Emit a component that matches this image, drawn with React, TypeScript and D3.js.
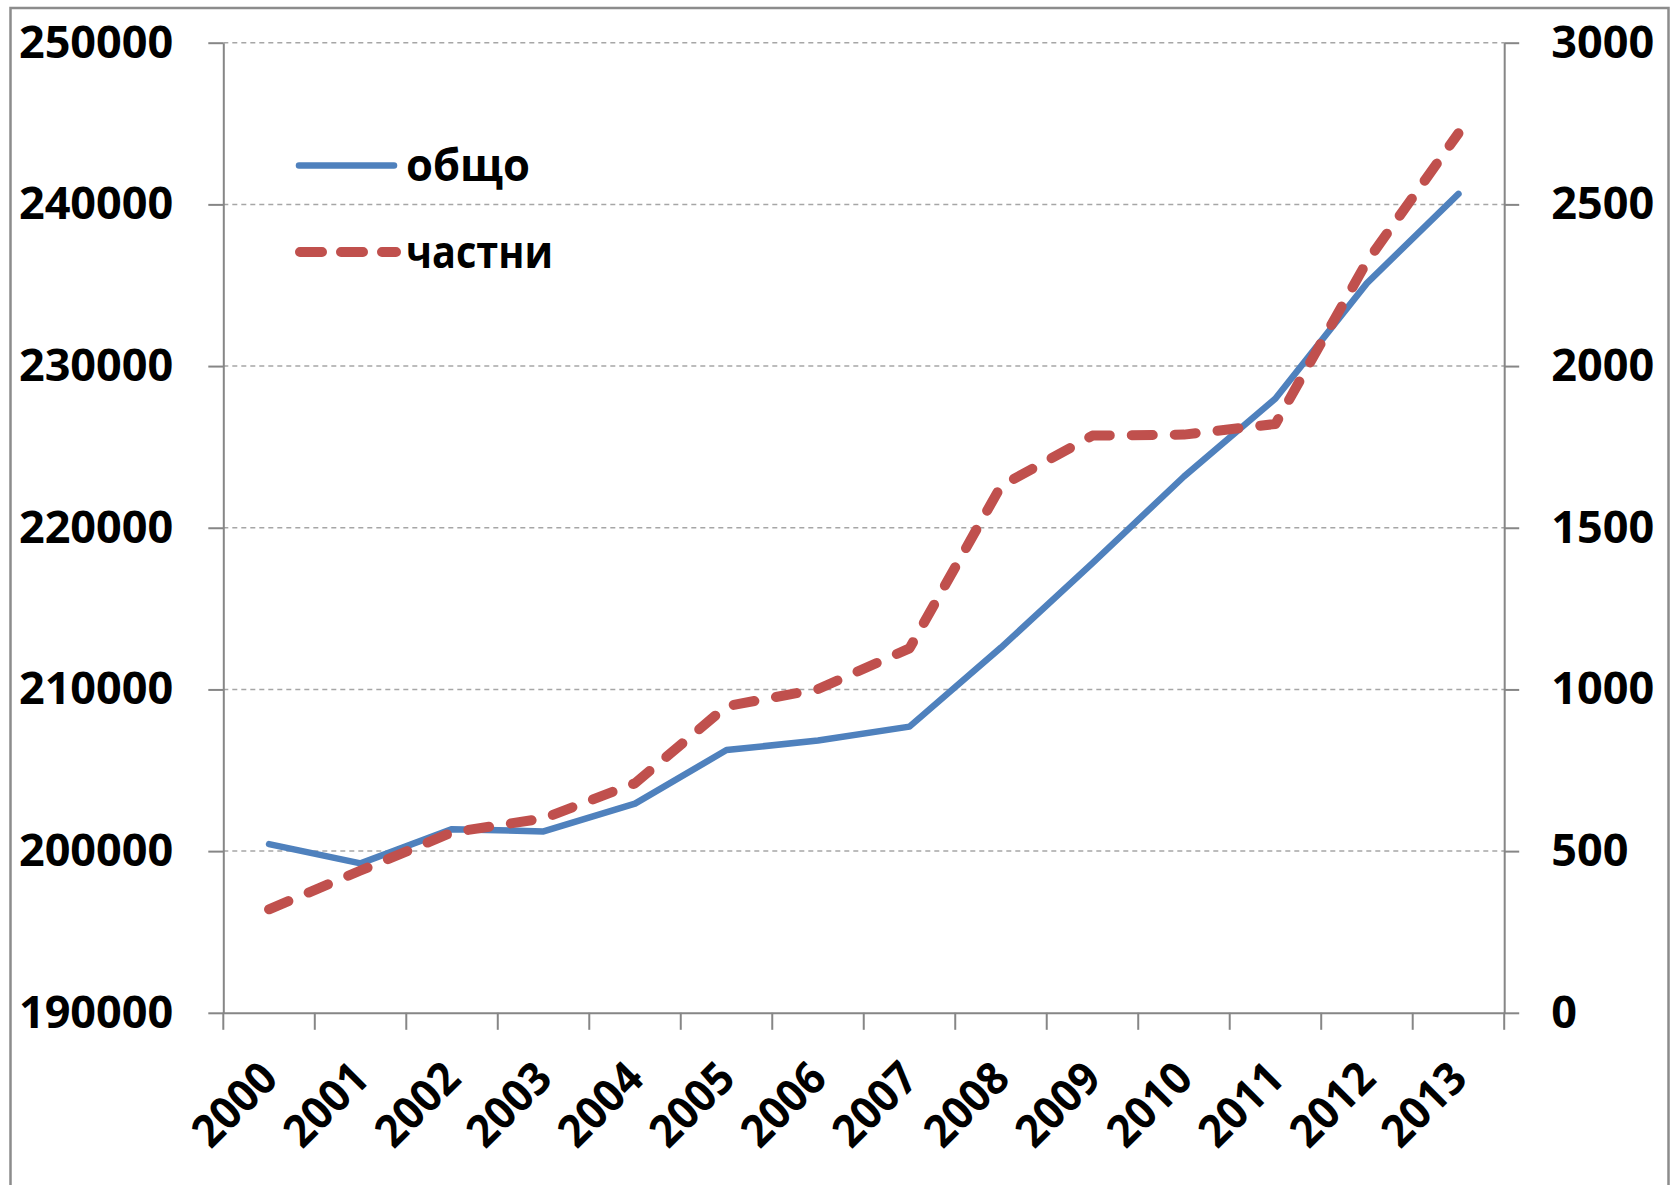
import React, { useEffect, useRef } from 'react';
import * as d3 from 'd3';

const years = ['2000', '2001', '2002', '2003', '2004', '2005', '2006', '2007', '2008', '2009', '2010', '2011', '2012', '2013'];
const total = [200430, 199240, 201360, 201220, 202940, 206250, 206840, 207700, 212590, 217810, 223170, 227990, 235130, 240650];
const privateSector = [320, 440, 558, 601, 710, 948, 1001, 1127, 1629, 1785, 1788, 1821, 2323, 2720];
const leftTicks = [190000, 200000, 210000, 220000, 230000, 240000, 250000];
const rightTicks = [0, 500, 1000, 1500, 2000, 2500, 3000];
const seriesNames = ['общо', 'частни'];

const App = () => {
  const svgRef = useRef<SVGSVGElement>(null);

  useEffect(() => {
    if (!svgRef.current) return;
    const W = 1675;
    const H = 1185;
    const left = 223.3;
    const right = 1504.2;
    const top = 42.7;
    const bottom = 1012.8;
    const font = "'Open Sans', sans-serif";
    const axisColor = '#868686';

    const svg = d3.select(svgRef.current);
    svg.selectAll('*').remove();
    svg.attr('width', W).attr('height', H);

    // outer frame
    svg.append('rect')
      .attr('x', 10.5).attr('y', 8)
      .attr('width', 1658).attr('height', 1200)
      .attr('fill', '#fff')
      .attr('stroke', '#8c8c8c')
      .attr('stroke-width', 2.5);

    const x = d3.scaleBand().domain(years).range([left, right]);
    const yL = d3.scaleLinear().domain([190000, 250000]).range([bottom, top]);
    const yR = d3.scaleLinear().domain([0, 3000]).range([bottom, top]);
    const cx = (d: string) => (x(d) as number) + x.bandwidth() / 2;

    // gridlines
    svg.append('g')
      .selectAll('line')
      .data(leftTicks.slice(1))
      .enter()
      .append('line')
      .attr('x1', left).attr('x2', right)
      .attr('y1', (d) => yL(d)).attr('y2', (d) => yL(d))
      .attr('stroke', '#a6a6a6')
      .attr('stroke-width', 1.5)
      .attr('stroke-dasharray', '5,4');

    const styleAxis = (g: any) => {
      g.select('.domain').attr('stroke', axisColor).attr('stroke-width', 2);
      g.selectAll('.tick line').attr('stroke', axisColor).attr('stroke-width', 2);
      g.selectAll('text')
        .attr('fill', '#000')
        .style('font-family', font)
        .style('font-weight', 700)
        .style('font-size', '45px');
    };

    const leftAxis = svg.append('g')
      .attr('transform', `translate(${left},0)`)
      .call(d3.axisLeft(yL).tickValues(leftTicks).tickSizeInner(15).tickSizeOuter(0).tickPadding(35).tickFormat(d3.format('d')));
    styleAxis(leftAxis);

    const rightAxis = svg.append('g')
      .attr('transform', `translate(${right},0)`)
      .call(d3.axisRight(yR).tickValues(rightTicks).tickSizeInner(15).tickSizeOuter(0).tickPadding(32).tickFormat(d3.format('d')));
    styleAxis(rightAxis);

    const bottomAxis = svg.append('g')
      .attr('transform', `translate(0,${bottom})`)
      .call(d3.axisBottom(x).tickSize(0).tickSizeOuter(0));
    styleAxis(bottomAxis);
    bottomAxis.selectAll('text')
      .attr('x', 0).attr('y', 0).attr('dy', 0)
      .attr('text-anchor', 'end')
      .attr('textLength', 98)
      .attr('lengthAdjust', 'spacingAndGlyphs')
      .attr('transform', 'translate(11,68) rotate(-45)');

    // category boundary ticks
    svg.append('g')
      .selectAll('line')
      .data([...years.map((d) => x(d) as number), x.range()[1]])
      .enter()
      .append('line')
      .attr('x1', (d) => d).attr('x2', (d) => d)
      .attr('y1', bottom).attr('y2', bottom + 17)
      .attr('stroke', axisColor)
      .attr('stroke-width', 2);

    const lineTotal = d3.line<number>()
      .x((d, i) => cx(years[i]))
      .y((d) => yL(d));
    const linePrivate = d3.line<number>()
      .x((d, i) => cx(years[i]))
      .y((d) => yR(d));

    svg.append('path')
      .datum(total)
      .attr('d', lineTotal)
      .attr('fill', 'none')
      .attr('stroke', '#4F81BD')
      .attr('stroke-width', 6.5)
      .attr('stroke-linejoin', 'round')
      .attr('stroke-linecap', 'round');

    svg.append('path')
      .datum(privateSector)
      .attr('d', linePrivate)
      .attr('fill', 'none')
      .attr('stroke', '#C0504D')
      .attr('stroke-width', 10)
      .attr('stroke-dasharray', '21,22')
      .attr('stroke-linejoin', 'round')
      .attr('stroke-linecap', 'round');

    // legend
    const legend = svg.append('g');
    const legendY = [165.5, 252];
    const legendLen = [124, 147];
    seriesNames.forEach((name, i) => {
      legend.append('line')
        .attr('x1', i === 0 ? 299 : 300).attr('x2', i === 0 ? 394 : 396)
        .attr('y1', legendY[i]).attr('y2', legendY[i])
        .attr('stroke', i === 0 ? '#4F81BD' : '#C0504D')
        .attr('stroke-width', i === 0 ? 6.5 : 10)
        .attr('stroke-linecap', 'round')
        .attr('stroke-dasharray', i === 0 ? null : '22,19');
      legend.append('text')
        .attr('x', 406)
        .attr('y', legendY[i])
        .attr('dy', '0.35em')
        .attr('fill', '#000')
        .attr('textLength', legendLen[i])
        .attr('lengthAdjust', 'spacingAndGlyphs')
        .style('font-family', font)
        .style('font-weight', 700)
        .style('font-size', '45px')
        .text(name);
    });
  }, []);

  return (
    <div style={{ position: 'absolute', left: 0, top: 0, background: '#fff' }}>
      <svg ref={svgRef} style={{ display: 'block' }}></svg>
    </div>
  );
};

export default App;
